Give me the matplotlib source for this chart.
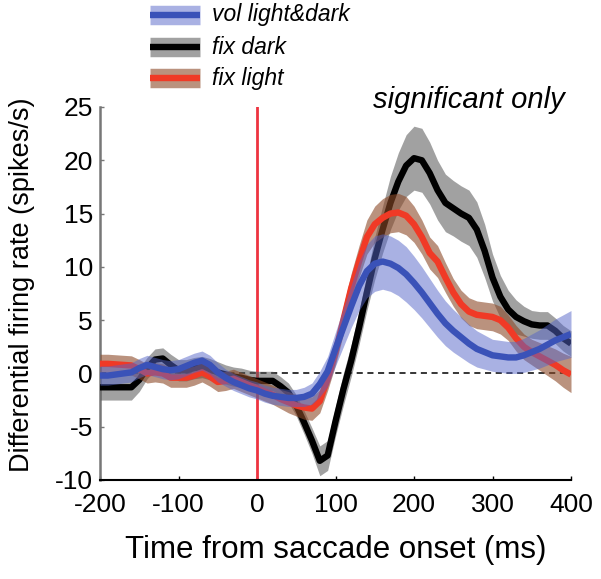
import numpy as np
import matplotlib
matplotlib.use("Agg")
import matplotlib.pyplot as plt
from matplotlib.lines import Line2D

plt.rcParams['font.family'] = ['Liberation Sans', 'DejaVu Sans']
plt.rcParams['axes.unicode_minus'] = False

# ---- data ----
time_ms = np.arange(-200, 401, 10)

fix_dark = [-1.3, -1.3, -1.3, -1.3, -1.3, -0.6, 0.5, 1.3, 1.4, 0.8,
            0.3, 0.3, 0.5, 0.6, 0.4, 0.1, -0.1, -0.3, -0.4, -0.6,
            -0.7, -0.7, -0.7, -1.2, -1.8, -3.0, -4.6, -6.3, -8.2, -7.7,
            -4.5, -1.5, 1.2, 4.3, 7.6, 10.8, 13.5, 16.0, 18.0, 19.5,
            20.2, 20.0, 18.8, 17.2, 16.0, 15.5, 15.0, 14.6, 13.5, 11.5,
            9.0, 7.2, 6.0, 5.3, 4.9, 4.6, 4.5, 4.5, 4.0, 3.3, 2.8]
fix_dark_sem = [1.2, 1.2, 1.2, 1.2, 1.2, 1.1, 1.0, 1.0, 1.0, 1.0,
                1.0, 1.0, 1.0, 1.0, 1.0, 1.0, 0.9, 0.9, 0.9, 0.9,
                0.9, 0.9, 0.9, 0.9, 0.9, 1.0, 1.1, 1.2, 1.4, 1.4,
                1.4, 1.5, 1.5, 1.6, 1.7, 2.0, 2.2, 2.5, 2.7, 2.9,
                3.0, 3.0, 2.9, 2.8, 2.7, 2.6, 2.6, 2.6, 2.6, 2.5,
                2.2, 2.0, 1.8, 1.6, 1.4, 1.3, 1.3, 1.3, 1.2, 1.2, 1.2]

fix_light = [0.9, 0.9, 0.85, 0.8, 0.75, 0.4, 0.0, 0.1, 0.0, -0.4,
             -0.4, -0.4, -0.2, 0.1, -0.3, -0.8, -0.7, -0.5, -0.8, -1.1,
             -1.4, -1.7, -2.0, -2.4, -2.7, -3.0, -3.2, -3.3, -2.6, -0.5,
             2.0, 5.0, 8.0, 10.5, 12.8, 14.0, 14.6, 15.0, 15.1, 14.8,
             14.0, 12.8, 11.3, 10.5, 9.0, 7.6, 6.5, 5.8, 5.5, 5.4,
             5.3, 5.0, 4.3, 3.3, 2.5, 2.0, 1.6, 1.2, 0.8, 0.3, -0.1]
fix_light_sem = [0.9, 0.9, 0.9, 0.9, 0.9, 0.9, 0.9, 0.9, 0.9, 0.9,
                 0.9, 0.9, 0.9, 0.9, 0.9, 0.9, 0.9, 0.9, 0.9, 0.9,
                 0.9, 0.9, 0.9, 0.9, 1.0, 1.0, 1.1, 1.1, 1.1, 1.1,
                 1.2, 1.3, 1.4, 1.5, 1.6, 1.7, 1.8, 1.8, 1.8, 1.8,
                 1.7, 1.6, 1.5, 1.5, 1.4, 1.3, 1.3, 1.3, 1.3, 1.3,
                 1.3, 1.3, 1.2, 1.2, 1.2, 1.2, 1.3, 1.4, 1.5, 1.6, 1.7]

vol = [-0.2, -0.2, -0.1, 0.0, 0.1, 0.5, 0.8, 0.6, 0.4, 0.3,
       0.4, 0.7, 1.0, 1.2, 0.8, 0.1, -0.4, -0.8, -1.1, -1.4,
       -1.6, -1.9, -2.1, -2.2, -2.3, -2.3, -2.2, -1.9, -1.0, 0.2,
       2.3, 4.3, 6.3, 8.2, 9.6, 10.3, 10.5, 10.3, 9.9, 9.3,
       8.5, 7.6, 6.6, 5.6, 4.7, 4.0, 3.4, 2.8, 2.3, 2.0,
       1.7, 1.6, 1.5, 1.5, 1.7, 2.0, 2.3, 2.7, 3.1, 3.4, 3.7]
vol_sem = [0.9, 0.9, 0.9, 0.9, 0.9, 0.9, 0.9, 0.9, 0.9, 0.9,
           0.9, 0.9, 0.9, 0.9, 0.9, 0.9, 0.8, 0.8, 0.8, 0.8,
           0.8, 0.8, 0.8, 0.8, 0.8, 0.8, 0.9, 1.0, 1.2, 1.4,
           1.6, 1.8, 2.0, 2.3, 2.5, 2.6, 2.6, 2.6, 2.6, 2.6,
           2.5, 2.4, 2.3, 2.2, 2.1, 2.0, 1.9, 1.8, 1.7, 1.6,
           1.5, 1.5, 1.5, 1.5, 1.6, 1.7, 1.8, 1.9, 2.0, 2.1, 2.2]

labels = ['vol light&dark', 'fix dark', 'fix light']
xticks = [-200, -100, 0, 100, 200, 300, 400]
yticks = [-10, -5, 0, 5, 10, 15, 20, 25]

# ---- styles ----
line_colors = {'vol': '#3a52b8', 'dark': '#000000', 'light': '#f03a26'}
band_colors = {'vol': '#5565c8', 'dark': '#555555', 'light': '#8c4a28'}
band_alpha = {'vol': 0.5, 'dark': 0.55, 'light': 0.6}

fig = plt.figure(figsize=(6.01, 5.79), dpi=100)
ax = fig.add_axes([100/601, 1 - 480/579, (571 - 100)/601, (480 - 107)/579])

ax.axhline(0, color='black', lw=1.1, ls=(0, (4, 3)), zorder=1, clip_on=False)
ax.axvline(0, color='#ee3340', lw=2.0, zorder=2)

t = np.asarray(time_ms)
series = [('dark', fix_dark, fix_dark_sem),
          ('light', fix_light, fix_light_sem),
          ('vol', vol, vol_sem)]
z = 3
for key, m, s in series:
    m = np.asarray(m); s = np.asarray(s)
    ax.fill_between(t, m - s, m + s, color=band_colors[key], alpha=band_alpha[key],
                    lw=0, zorder=z)
    ax.plot(t, m, color=line_colors[key], lw=4.6, zorder=z + 1,
            solid_capstyle='butt', solid_joinstyle='round')
    z += 2

ax.set_xlim(-200, 400)
ax.set_ylim(-10, 25)
ax.set_xticks(xticks)
ax.set_yticks(yticks)
ax.tick_params(direction='in', length=3, width=1, labelsize=19)
ax.tick_params(axis='x', pad=9)
ax.tick_params(axis='y', colors='#777777', labelcolor='black', pad=5)
for side in ['top', 'right']:
    ax.spines[side].set_visible(False)
ax.spines['left'].set_color('#777777')
ax.spines['left'].set_linewidth(1.8)
ax.spines['bottom'].set_color('black')
ax.spines['bottom'].set_linewidth(1.5)

ax.set_xlabel('Time from saccade onset (ms)', fontsize=22.5)
ax.xaxis.set_label_coords(0.5, -(550 - 480) / 373, transform=ax.transAxes)
ax.xaxis.label.set_va('center')
ax.set_ylabel('Differential firing rate (spikes/s)', fontsize=19.5)
ax.yaxis.set_label_coords(-(100 - 22) / 471, (480 - 285) / 373, transform=ax.transAxes)
ax.yaxis.label.set_va('center')

ax.text((565 - 100) / 471, (480 - 100) / 373, 'significant only', transform=ax.transAxes,
        ha='right', va='center', fontsize=21, style='italic')

# ---- legend (drawn in figure coordinates) ----
keys = ['vol', 'dark', 'light']
rows_y = [15, 47, 78]
for key, lab, yp in zip(keys, labels, rows_y):
    yf = 1 - yp / 579
    fig.add_artist(Line2D([150/601, 200/601], [yf, yf], color=band_colors[key],
                          alpha=band_alpha[key], lw=14, solid_capstyle='butt'))
    fig.add_artist(Line2D([150/601, 200/601], [yf, yf], color=line_colors[key],
                          lw=4.6, solid_capstyle='butt'))
    fig.text(212/601, yf, lab, fontsize=16.5, style='italic', va='center', ha='left')

fig.savefig('out.png', dpi=100)
